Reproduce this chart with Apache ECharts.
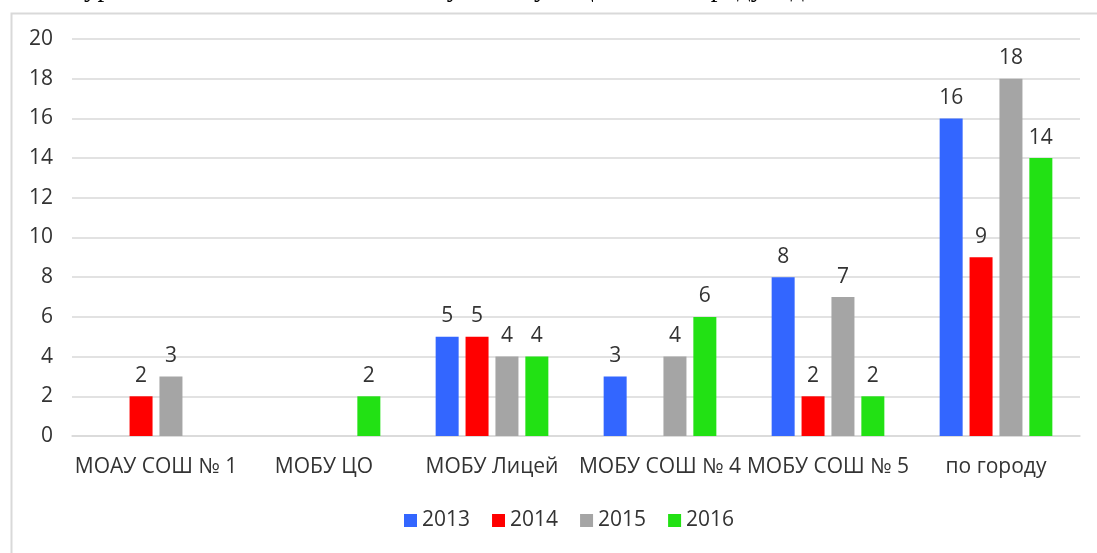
<!DOCTYPE html>
<html><head><meta charset="utf-8">
<script src="https://cdn.jsdelivr.net/npm/echarts@6/dist/echarts.min.js"></script>
<style>html,body{margin:0;padding:0;background:#fff}#c{width:1097px;height:553px}</style>
</head><body><div id="c"></div>
<script>
const categories = ['МОАУ СОШ № 1','МОБУ ЦО','МОБУ Лицей','МОБУ СОШ № 4','МОБУ СОШ № 5','по городу'];
const seriesNames = ['2013','2014','2015','2016'];
const v2013 = [null, null, 5, 3, 8, 16];
const v2014 = [2, null, 5, null, 2, 9];
const v2015 = [3, null, 4, 4, 7, 18];
const v2016 = [null, 2, 4, 6, 2, 14];
const yTicks = {min: 0, max: 20, interval: 2};
const headerText = 'анализ уровня показателей качества обучения учащихся по городу в динамике за 2013-2016 гг.';

const colors = ['#3366ff', '#ff0000', '#a5a5a5', '#22e114'];
const allValues = [v2013, v2014, v2015, v2016];
const FONT = "'Open Sans', 'Noto Sans', sans-serif";
const TXT = '#333333';

const chart = echarts.init(document.getElementById('c'), null, {renderer: 'canvas'});
chart.setOption({
  animation: false,
  backgroundColor: '#fff',
  graphic: [
    {type: 'rect', left: 9, top: 11, shape: {width: 1100, height: 600},
     style: {fill: 'none', stroke: '#d9d9d9', lineWidth: 2}, z: -1},
    {type: 'text', left: 0, top: -25,
     style: {text: headerText, font: "27px 'Liberation Serif', serif", fill: '#000'}}
  ],
  grid: {left: 72, right: 17, top: 39, bottom: 117, containLabel: false},
  legend: {
    data: seriesNames, bottom: 17, left: 399,
    itemWidth: 13, itemHeight: 13, itemGap: 22, icon: 'rect',
    textStyle: {fontFamily: FONT, fontSize: 21, color: TXT}
  },
  xAxis: {
    type: 'category', data: categories,
    axisLine: {lineStyle: {color: '#d9d9d9', width: 1.5}},
    axisTick: {show: false},
    axisLabel: {fontFamily: FONT, fontSize: 21, color: TXT, margin: 21, interval: 0}
  },
  yAxis: {
    type: 'value', min: yTicks.min, max: yTicks.max, interval: yTicks.interval,
    axisLine: {show: false}, axisTick: {show: false},
    splitLine: {lineStyle: {color: '#d9d9d9', width: 1.5}},
    axisLabel: {fontFamily: FONT, fontSize: 21, color: TXT, margin: 19}
  },
  series: seriesNames.map((n, i) => ({
    name: n, type: 'bar', data: allValues[i], barWidth: 23, barGap: '30%',
    itemStyle: {color: colors[i]},
    label: {show: true, position: 'top', distance: 10, fontFamily: FONT, fontSize: 21, color: TXT}
  }))
});
</script></body></html>
